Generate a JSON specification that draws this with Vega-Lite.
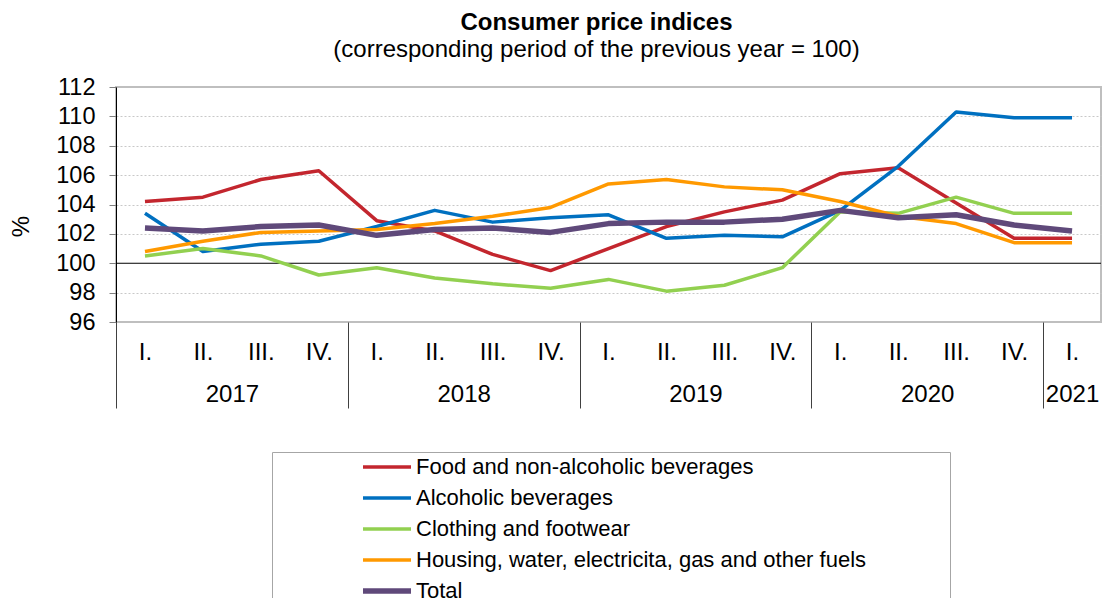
{
  "$schema": "https://vega.github.io/schema/vega-lite/v6.json",
  "width": 985,
  "height": 235,
  "autosize": {"type": "none"},
  "padding": {"left": 116, "top": 87, "right": 1, "bottom": 276},
  "config": {
    "font": "Liberation Sans",
    "view": {"stroke": "#bfbfbf", "strokeWidth": 2}
  },
  "title": {
    "text": "Consumer price indices",
    "subtitle": "(corresponding period of the previous year = 100)",
    "anchor": "middle",
    "dx": -12,
    "fontSize": 24,
    "fontWeight": "bold",
    "color": "#000000",
    "subtitleFontSize": 24,
    "subtitleColor": "#000000",
    "subtitlePadding": 3,
    "offset": 13
  },
  "resolve": {"axis": {"x": "independent"}},
  "layer": [
    {
      "data": {"values": [{"start": -0.5, "end": 16.5, "base": 100}]},
      "mark": {"type": "rule", "color": "#000000", "strokeWidth": 1},
      "encoding": {
        "x": {
          "field": "start",
          "type": "quantitative",
          "scale": {"domain": [-0.5, 16.5], "nice": false, "zero": false},
          "axis": {
            "orient": "bottom",
            "values": [-0.5, 1.5, 3.5, 5.5, 7.5, 9.5, 11.5, 13.5, 15.5, 16],
            "labelExpr": "datum.value == 1.5 ? '2017' : datum.value == 5.5 ? '2018' : datum.value == 9.5 ? '2019' : datum.value == 13.5 ? '2020' : datum.value == 16 ? '2021' : ''",
            "tickSize": 86,
            "tickColor": "#404040",
            "tickWidth": 1,
            "tickOpacity": {"condition": {"test": "(datum.value + 0.5) % 4 == 0", "value": 1}, "value": 0},
            "labelPadding": -26,
            "labelFontSize": 24,
            "labelColor": "#000000",
            "labelOverlap": false,
            "labelFlush": false,
            "domain": false,
            "grid": false,
            "title": null
          }
        },
        "x2": {"field": "end"},
        "y": {
          "field": "base",
          "type": "quantitative",
          "scale": {"domain": [96, 112], "nice": false, "zero": false},
          "axis": {
            "values": [96, 98, 100, 102, 104, 106, 108, 110, 112],
            "labelOverlap": false,
            "grid": true,
            "gridDash": [2, 2],
            "gridColor": "#c8c8c8",
            "gridOpacity": {"condition": {"test": "datum.value == 96 || datum.value == 112 || datum.value == 100", "value": 0}, "value": 1},
            "tickSize": 7,
            "tickColor": "#808080",
            "domainColor": "#000000",
            "labelFontSize": 23.5,
            "labelColor": "#000000",
            "labelPadding": 14,
            "title": "%",
            "titleFontSize": 24,
            "titleFontWeight": "normal",
            "titleColor": "#000000",
            "titleY": 139,
            "titlePadding": 22
          }
        }
      }
    },
    {
      "data": {
        "values": [
          {"i": 0, "year": 2017, "quarter": "I.", "series": "Food and non-alcoholic beverages", "v": 104.2},
          {"i": 1, "year": 2017, "quarter": "II.", "series": "Food and non-alcoholic beverages", "v": 104.5},
          {"i": 2, "year": 2017, "quarter": "III.", "series": "Food and non-alcoholic beverages", "v": 105.7},
          {"i": 3, "year": 2017, "quarter": "IV.", "series": "Food and non-alcoholic beverages", "v": 106.3},
          {"i": 4, "year": 2018, "quarter": "I.", "series": "Food and non-alcoholic beverages", "v": 102.9},
          {"i": 5, "year": 2018, "quarter": "II.", "series": "Food and non-alcoholic beverages", "v": 102.2},
          {"i": 6, "year": 2018, "quarter": "III.", "series": "Food and non-alcoholic beverages", "v": 100.6},
          {"i": 7, "year": 2018, "quarter": "IV.", "series": "Food and non-alcoholic beverages", "v": 99.5},
          {"i": 8, "year": 2019, "quarter": "I.", "series": "Food and non-alcoholic beverages", "v": 101.0},
          {"i": 9, "year": 2019, "quarter": "II.", "series": "Food and non-alcoholic beverages", "v": 102.5},
          {"i": 10, "year": 2019, "quarter": "III.", "series": "Food and non-alcoholic beverages", "v": 103.5},
          {"i": 11, "year": 2019, "quarter": "IV.", "series": "Food and non-alcoholic beverages", "v": 104.3},
          {"i": 12, "year": 2020, "quarter": "I.", "series": "Food and non-alcoholic beverages", "v": 106.1},
          {"i": 13, "year": 2020, "quarter": "II.", "series": "Food and non-alcoholic beverages", "v": 106.5},
          {"i": 14, "year": 2020, "quarter": "III.", "series": "Food and non-alcoholic beverages", "v": 104.1},
          {"i": 15, "year": 2020, "quarter": "IV.", "series": "Food and non-alcoholic beverages", "v": 101.7},
          {"i": 16, "year": 2021, "quarter": "I.", "series": "Food and non-alcoholic beverages", "v": 101.7},
          {"i": 0, "year": 2017, "quarter": "I.", "series": "Alcoholic beverages", "v": 103.4},
          {"i": 1, "year": 2017, "quarter": "II.", "series": "Alcoholic beverages", "v": 100.8},
          {"i": 2, "year": 2017, "quarter": "III.", "series": "Alcoholic beverages", "v": 101.3},
          {"i": 3, "year": 2017, "quarter": "IV.", "series": "Alcoholic beverages", "v": 101.5},
          {"i": 4, "year": 2018, "quarter": "I.", "series": "Alcoholic beverages", "v": 102.5},
          {"i": 5, "year": 2018, "quarter": "II.", "series": "Alcoholic beverages", "v": 103.6},
          {"i": 6, "year": 2018, "quarter": "III.", "series": "Alcoholic beverages", "v": 102.8},
          {"i": 7, "year": 2018, "quarter": "IV.", "series": "Alcoholic beverages", "v": 103.1},
          {"i": 8, "year": 2019, "quarter": "I.", "series": "Alcoholic beverages", "v": 103.3},
          {"i": 9, "year": 2019, "quarter": "II.", "series": "Alcoholic beverages", "v": 101.7},
          {"i": 10, "year": 2019, "quarter": "III.", "series": "Alcoholic beverages", "v": 101.9},
          {"i": 11, "year": 2019, "quarter": "IV.", "series": "Alcoholic beverages", "v": 101.8},
          {"i": 12, "year": 2020, "quarter": "I.", "series": "Alcoholic beverages", "v": 103.6},
          {"i": 13, "year": 2020, "quarter": "II.", "series": "Alcoholic beverages", "v": 106.6},
          {"i": 14, "year": 2020, "quarter": "III.", "series": "Alcoholic beverages", "v": 110.3},
          {"i": 15, "year": 2020, "quarter": "IV.", "series": "Alcoholic beverages", "v": 109.9},
          {"i": 16, "year": 2021, "quarter": "I.", "series": "Alcoholic beverages", "v": 109.9},
          {"i": 0, "year": 2017, "quarter": "I.", "series": "Clothing and footwear", "v": 100.5},
          {"i": 1, "year": 2017, "quarter": "II.", "series": "Clothing and footwear", "v": 101.0},
          {"i": 2, "year": 2017, "quarter": "III.", "series": "Clothing and footwear", "v": 100.5},
          {"i": 3, "year": 2017, "quarter": "IV.", "series": "Clothing and footwear", "v": 99.2},
          {"i": 4, "year": 2018, "quarter": "I.", "series": "Clothing and footwear", "v": 99.7},
          {"i": 5, "year": 2018, "quarter": "II.", "series": "Clothing and footwear", "v": 99.0},
          {"i": 6, "year": 2018, "quarter": "III.", "series": "Clothing and footwear", "v": 98.6},
          {"i": 7, "year": 2018, "quarter": "IV.", "series": "Clothing and footwear", "v": 98.3},
          {"i": 8, "year": 2019, "quarter": "I.", "series": "Clothing and footwear", "v": 98.9},
          {"i": 9, "year": 2019, "quarter": "II.", "series": "Clothing and footwear", "v": 98.1},
          {"i": 10, "year": 2019, "quarter": "III.", "series": "Clothing and footwear", "v": 98.5},
          {"i": 11, "year": 2019, "quarter": "IV.", "series": "Clothing and footwear", "v": 99.7},
          {"i": 12, "year": 2020, "quarter": "I.", "series": "Clothing and footwear", "v": 103.5},
          {"i": 13, "year": 2020, "quarter": "II.", "series": "Clothing and footwear", "v": 103.4},
          {"i": 14, "year": 2020, "quarter": "III.", "series": "Clothing and footwear", "v": 104.5},
          {"i": 15, "year": 2020, "quarter": "IV.", "series": "Clothing and footwear", "v": 103.4},
          {"i": 16, "year": 2021, "quarter": "I.", "series": "Clothing and footwear", "v": 103.4},
          {"i": 0, "year": 2017, "quarter": "I.", "series": "Housing, water, electricita, gas and other fuels", "v": 100.8},
          {"i": 1, "year": 2017, "quarter": "II.", "series": "Housing, water, electricita, gas and other fuels", "v": 101.5},
          {"i": 2, "year": 2017, "quarter": "III.", "series": "Housing, water, electricita, gas and other fuels", "v": 102.1},
          {"i": 3, "year": 2017, "quarter": "IV.", "series": "Housing, water, electricita, gas and other fuels", "v": 102.2},
          {"i": 4, "year": 2018, "quarter": "I.", "series": "Housing, water, electricita, gas and other fuels", "v": 102.3},
          {"i": 5, "year": 2018, "quarter": "II.", "series": "Housing, water, electricita, gas and other fuels", "v": 102.7},
          {"i": 6, "year": 2018, "quarter": "III.", "series": "Housing, water, electricita, gas and other fuels", "v": 103.2},
          {"i": 7, "year": 2018, "quarter": "IV.", "series": "Housing, water, electricita, gas and other fuels", "v": 103.8},
          {"i": 8, "year": 2019, "quarter": "I.", "series": "Housing, water, electricita, gas and other fuels", "v": 105.4},
          {"i": 9, "year": 2019, "quarter": "II.", "series": "Housing, water, electricita, gas and other fuels", "v": 105.7},
          {"i": 10, "year": 2019, "quarter": "III.", "series": "Housing, water, electricita, gas and other fuels", "v": 105.2},
          {"i": 11, "year": 2019, "quarter": "IV.", "series": "Housing, water, electricita, gas and other fuels", "v": 105.0},
          {"i": 12, "year": 2020, "quarter": "I.", "series": "Housing, water, electricita, gas and other fuels", "v": 104.2},
          {"i": 13, "year": 2020, "quarter": "II.", "series": "Housing, water, electricita, gas and other fuels", "v": 103.2},
          {"i": 14, "year": 2020, "quarter": "III.", "series": "Housing, water, electricita, gas and other fuels", "v": 102.7},
          {"i": 15, "year": 2020, "quarter": "IV.", "series": "Housing, water, electricita, gas and other fuels", "v": 101.4},
          {"i": 16, "year": 2021, "quarter": "I.", "series": "Housing, water, electricita, gas and other fuels", "v": 101.4},
          {"i": 0, "year": 2017, "quarter": "I.", "series": "Total", "v": 102.4},
          {"i": 1, "year": 2017, "quarter": "II.", "series": "Total", "v": 102.2},
          {"i": 2, "year": 2017, "quarter": "III.", "series": "Total", "v": 102.5},
          {"i": 3, "year": 2017, "quarter": "IV.", "series": "Total", "v": 102.6},
          {"i": 4, "year": 2018, "quarter": "I.", "series": "Total", "v": 101.9},
          {"i": 5, "year": 2018, "quarter": "II.", "series": "Total", "v": 102.3},
          {"i": 6, "year": 2018, "quarter": "III.", "series": "Total", "v": 102.4},
          {"i": 7, "year": 2018, "quarter": "IV.", "series": "Total", "v": 102.1},
          {"i": 8, "year": 2019, "quarter": "I.", "series": "Total", "v": 102.7},
          {"i": 9, "year": 2019, "quarter": "II.", "series": "Total", "v": 102.8},
          {"i": 10, "year": 2019, "quarter": "III.", "series": "Total", "v": 102.8},
          {"i": 11, "year": 2019, "quarter": "IV.", "series": "Total", "v": 103.0},
          {"i": 12, "year": 2020, "quarter": "I.", "series": "Total", "v": 103.6},
          {"i": 13, "year": 2020, "quarter": "II.", "series": "Total", "v": 103.1},
          {"i": 14, "year": 2020, "quarter": "III.", "series": "Total", "v": 103.3},
          {"i": 15, "year": 2020, "quarter": "IV.", "series": "Total", "v": 102.6},
          {"i": 16, "year": 2021, "quarter": "I.", "series": "Total", "v": 102.2}
        ]
      },
      "mark": {"type": "line", "strokeJoin": "round"},
      "encoding": {
        "x": {
          "field": "i",
          "type": "quantitative",
          "axis": {
            "orient": "bottom",
            "values": [0, 1, 2, 3, 4, 5, 6, 7, 8, 9, 10, 11, 12, 13, 14, 15, 16],
            "labelExpr": "['I.', 'II.', 'III.', 'IV.'][datum.value % 4]",
            "ticks": false,
            "domain": false,
            "grid": false,
            "labelPadding": 18,
            "labelFontSize": 24,
            "labelColor": "#000000",
            "labelOverlap": false,
            "labelFlush": false,
            "title": null
          }
        },
        "y": {
          "field": "v",
          "type": "quantitative",
          "axis": {
            "values": [96, 98, 100, 102, 104, 106, 108, 110, 112],
            "labelOverlap": false,
            "grid": true,
            "gridDash": [2, 2],
            "gridColor": "#c8c8c8",
            "gridOpacity": {"condition": {"test": "datum.value == 96 || datum.value == 112 || datum.value == 100", "value": 0}, "value": 1},
            "tickSize": 7,
            "tickColor": "#808080",
            "domainColor": "#000000",
            "labelFontSize": 23.5,
            "labelColor": "#000000",
            "labelPadding": 14,
            "title": "%",
            "titleFontSize": 24,
            "titleFontWeight": "normal",
            "titleColor": "#000000",
            "titleY": 139,
            "titlePadding": 22
          }
        },
        "color": {
          "field": "series",
          "type": "nominal",
          "scale": {
            "domain": ["Food and non-alcoholic beverages", "Alcoholic beverages", "Clothing and footwear", "Housing, water, electricita, gas and other fuels", "Total"],
            "range": ["#C3262E", "#0070C0", "#92D050", "#FF9900", "#5F497A"]
          },
          "legend": {
            "orient": "none",
            "legendX": 156,
            "legendY": 365,
            "title": "\u00a0",
            "titleOrient": "right",
            "titlePadding": 84,
            "symbolType": "stroke",
            "symbolSize": 2304,
            "clipHeight": 30,
            "labelFontSize": 22,
            "labelColor": "#000000",
            "labelLimit": 700,
            "labelOffset": 18,
            "symbolOffset": 104,
            "rowPadding": 1,
            "padding": 0,
            "strokeColor": "#a6a6a6",
            "fillColor": "#ffffff",
            "encode": {
              "symbols": {
                "update": {
                  "strokeWidth": {"signal": "datum.value === 'Total' ? 5.5 : 3.5"}
                }
              }
            }
          }
        },
        "strokeWidth": {
          "condition": {"test": "datum.series === 'Total'", "value": 5.5},
          "value": 3.5
        }
      }
    }
  ]
}
